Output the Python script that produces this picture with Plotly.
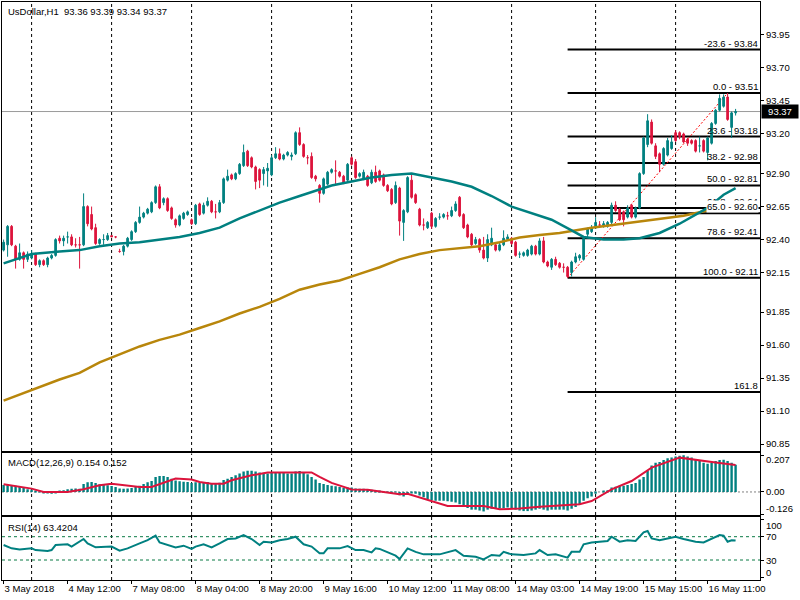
import plotly.graph_objects as go

FONT = "Liberation Sans, Arial, sans-serif"
TEAL = "#008080"
CRIMSON = "#DC143C"
GOLD = "#B8860B"

# ---------------- price data (H1 bars, index 0 = 3 May 2018) ----------------
opens = [
    92.32, 92.36, 92.50, 92.35, 92.25, 92.30, 92.25, 92.26, 92.29, 92.21,
    92.24, 92.21, 92.26, 92.28, 92.41, 92.39, 92.42, 92.42, 92.36, 92.36,
    92.36, 92.65, 92.59, 92.49, 92.37, 92.40, 92.40, 92.43, 92.42, 92.31,
    92.31, 92.35, 92.40, 92.46, 92.53, 92.57, 92.60, 92.61, 92.68, 92.80,
    92.68, 92.71, 92.64, 92.55, 92.51, 92.56, 92.59, 92.55, 92.52, 92.67,
    92.60, 92.66, 92.69, 92.61, 92.61, 92.68, 92.85, 92.89, 92.86, 92.90,
    92.96, 93.07, 93.02, 92.95, 92.93, 92.90, 92.92, 92.89, 93.02, 93.05,
    93.01, 93.04, 93.03, 93.05, 93.21, 93.12, 93.02, 93.03, 92.88, 92.81,
    92.75, 92.82, 92.91, 92.92, 92.91, 92.88, 92.85, 93.02, 92.99, 92.88,
    92.86, 92.88, 92.83, 92.91, 92.92, 92.89, 92.81, 92.78, 92.68, 92.79,
    92.53, 92.61, 92.85, 92.74, 92.63, 92.51, 92.49, 92.60, 92.50, 92.57,
    92.57, 92.58, 92.58, 92.62, 92.72, 92.59, 92.51, 92.44, 92.37, 92.40,
    92.32, 92.26, 92.36, 92.36, 92.32, 92.36, 92.40, 92.41, 92.38, 92.29,
    92.28, 92.28, 92.29, 92.35, 92.29, 92.39, 92.23, 92.19, 92.25, 92.22,
    92.19, 92.19, 92.15, 92.23, 92.26, 92.25, 92.44, 92.46, 92.49, 92.51,
    92.51, 92.50, 92.53, 92.66, 92.63, 92.61, 92.57, 92.66, 92.57, 92.64,
    92.90, 93.12, 93.29, 93.11, 93.05, 92.97, 93.04, 93.09, 93.21, 93.21,
    93.20, 93.16, 93.15, 93.15, 93.11, 93.15, 93.06, 93.13, 93.28, 93.38,
    93.41, 93.48, 93.25, 93.36,
]
highs = [
    92.40, 92.51, 92.51, 92.36, 92.37, 92.31, 92.31, 92.32, 92.30, 92.25,
    92.25, 92.27, 92.29, 92.41, 92.43, 92.43, 92.46, 92.44, 92.41, 92.42,
    92.75, 92.66, 92.65, 92.52, 92.41, 92.44, 92.45, 92.43, 92.42, 92.33,
    92.36, 92.42, 92.47, 92.54, 92.65, 92.61, 92.64, 92.69, 92.81, 92.82,
    92.72, 92.72, 92.65, 92.56, 92.59, 92.61, 92.62, 92.56, 92.67, 92.68,
    92.68, 92.72, 92.70, 92.67, 92.70, 92.87, 92.93, 92.90, 92.91, 92.98,
    93.12, 93.08, 93.03, 92.96, 92.94, 92.95, 92.98, 93.04, 93.10, 93.09,
    93.05, 93.07, 93.06, 93.22, 93.25, 93.13, 93.04, 93.06, 92.89, 92.82,
    92.87, 92.92, 92.94, 93.00, 92.92, 92.89, 92.98, 93.03, 93.01, 92.91,
    92.93, 92.89, 92.93, 92.96, 92.93, 92.90, 92.82, 92.79, 92.84, 92.80,
    92.63, 92.88, 92.89, 92.75, 92.64, 92.56, 92.54, 92.61, 92.57, 92.60,
    92.60, 92.61, 92.65, 92.69, 92.73, 92.60, 92.52, 92.45, 92.42, 92.41,
    92.42, 92.44, 92.49, 92.37, 92.38, 92.47, 92.44, 92.42, 92.39, 92.31,
    92.31, 92.33, 92.36, 92.36, 92.41, 92.42, 92.24, 92.26, 92.27, 92.23,
    92.22, 92.20, 92.24, 92.30, 92.29, 92.42, 92.49, 92.51, 92.57, 92.54,
    92.54, 92.54, 92.68, 92.69, 92.64, 92.62, 92.66, 92.67, 92.65, 92.91,
    93.18, 93.35, 93.31, 93.13, 93.06, 93.10, 93.17, 93.19, 93.23, 93.22,
    93.21, 93.17, 93.16, 93.16, 93.18, 93.16, 93.18, 93.29, 93.39, 93.50,
    93.50, 93.51, 93.37, 93.39,
]
lows = [
    92.31, 92.27, 92.35, 92.18, 92.24, 92.18, 92.23, 92.25, 92.20, 92.19,
    92.20, 92.19, 92.25, 92.27, 92.37, 92.35, 92.37, 92.35, 92.34, 92.18,
    92.35, 92.50, 92.47, 92.36, 92.36, 92.36, 92.39, 92.42, 92.41, 92.30,
    92.28, 92.34, 92.39, 92.45, 92.52, 92.56, 92.59, 92.60, 92.67, 92.63,
    92.66, 92.61, 92.55, 92.49, 92.50, 92.55, 92.58, 92.51, 92.51, 92.58,
    92.59, 92.65, 92.60, 92.56, 92.60, 92.67, 92.84, 92.85, 92.85, 92.89,
    92.95, 92.95, 92.94, 92.78, 92.79, 92.81, 92.80, 92.88, 93.01, 93.00,
    93.00, 93.03, 93.00, 93.04, 93.11, 93.02, 92.97, 92.86, 92.84, 92.68,
    92.74, 92.81, 92.90, 92.81, 92.87, 92.82, 92.84, 92.96, 92.86, 92.87,
    92.85, 92.80, 92.82, 92.83, 92.84, 92.80, 92.76, 92.66, 92.67, 92.43,
    92.39, 92.60, 92.71, 92.67, 92.50, 92.47, 92.48, 92.48, 92.49, 92.55,
    92.56, 92.55, 92.57, 92.61, 92.57, 92.48, 92.41, 92.35, 92.36, 92.30,
    92.25, 92.23, 92.35, 92.31, 92.31, 92.35, 92.39, 92.36, 92.27, 92.26,
    92.27, 92.27, 92.28, 92.28, 92.28, 92.22, 92.19, 92.17, 92.20, 92.18,
    92.15, 92.11, 92.12, 92.22, 92.24, 92.24, 92.41, 92.45, 92.48, 92.49,
    92.49, 92.49, 92.51, 92.61, 92.54, 92.50, 92.56, 92.56, 92.56, 92.63,
    92.89, 93.10, 93.12, 93.01, 92.91, 92.96, 93.03, 93.08, 93.14, 93.16,
    93.13, 93.11, 93.12, 93.06, 93.06, 93.06, 93.00, 93.12, 93.27, 93.37,
    93.40, 93.30, 93.17, 93.34,
]
closes = [
    92.38, 92.50, 92.36, 92.25, 92.30, 92.25, 92.29, 92.29, 92.21, 92.24,
    92.21, 92.26, 92.28, 92.40, 92.39, 92.41, 92.42, 92.36, 92.36, 92.36,
    92.65, 92.52, 92.48, 92.37, 92.40, 92.40, 92.43, 92.42, 92.42, 92.31,
    92.35, 92.41, 92.46, 92.53, 92.57, 92.60, 92.63, 92.68, 92.80, 92.64,
    92.71, 92.62, 92.56, 92.51, 92.58, 92.60, 92.61, 92.52, 92.66, 92.59,
    92.66, 92.69, 92.61, 92.61, 92.68, 92.86, 92.88, 92.86, 92.90, 92.97,
    93.06, 92.96, 92.95, 92.84, 92.85, 92.93, 92.94, 93.02, 93.05, 93.01,
    93.04, 93.06, 93.04, 93.21, 93.12, 93.03, 93.02, 92.87, 92.86, 92.75,
    92.86, 92.91, 92.93, 92.92, 92.88, 92.83, 92.97, 92.97, 92.87, 92.90,
    92.91, 92.81, 92.91, 92.84, 92.85, 92.81, 92.77, 92.67, 92.81, 92.54,
    92.62, 92.87, 92.72, 92.68, 92.51, 92.51, 92.53, 92.50, 92.56, 92.57,
    92.59, 92.58, 92.62, 92.67, 92.58, 92.49, 92.42, 92.36, 92.40, 92.32,
    92.26, 92.40, 92.41, 92.32, 92.36, 92.41, 92.42, 92.37, 92.28, 92.29,
    92.30, 92.32, 92.35, 92.29, 92.39, 92.23, 92.20, 92.25, 92.21, 92.19,
    92.19, 92.12, 92.23, 92.27, 92.28, 92.41, 92.48, 92.49, 92.53, 92.51,
    92.52, 92.53, 92.66, 92.62, 92.55, 92.55, 92.64, 92.57, 92.64, 92.90,
    93.17, 93.30, 93.13, 93.03, 92.97, 93.09, 93.15, 93.14, 93.15, 93.18,
    93.14, 93.13, 93.13, 93.07, 93.11, 93.07, 93.17, 93.28, 93.38, 93.47,
    93.48, 93.31, 93.36, 93.37,
]
bars = list(range(len(closes)))

# time axis
tick_bars = [0, 16, 32, 48, 64, 80, 96, 112, 128, 144, 160, 176]
tick_labels = ["3 May 2018", "4 May 12:00", "7 May 08:00", "8 May 04:00",
               "8 May 20:00", "9 May 16:00", "10 May 12:00", "11 May 08:00",
               "14 May 03:00", "14 May 19:00", "15 May 15:00", "16 May 11:00"]
day_start_bars = [7, 27, 47, 67, 87, 107, 127, 148, 168]

price_ticks = [93.95, 93.70, 93.45, 93.20, 92.90, 92.65, 92.40, 92.15,
               91.85, 91.60, 91.35, 91.10, 90.85]

# moving averages (read at sample bars)
ma_fast_bars = [0, 7, 14, 19, 24, 29, 34, 39, 44, 49, 54, 59, 64, 69, 74, 77,
                82, 87, 92, 97, 102, 107, 112, 117, 122, 127, 132, 137, 142,
                145, 150, 155, 159, 164, 169, 174, 176, 180, 183]
ma_fast_vals = [92.22, 92.29, 92.31, 92.32, 92.35, 92.37, 92.38, 92.40, 92.42,
                92.45, 92.49, 92.56, 92.62, 92.68, 92.73, 92.76, 92.81, 92.84,
                92.87, 92.89, 92.90, 92.87, 92.84, 92.80, 92.73, 92.65, 92.60,
                92.55, 92.47, 92.42, 92.40, 92.40, 92.41, 92.45, 92.52, 92.61,
                92.64, 92.74, 92.79]
ma_slow_bars = [0, 7, 14, 19, 24, 29, 34, 39, 44, 49, 54, 59, 64, 69, 74, 79,
                84, 89, 94, 99, 104, 109, 114, 119, 124, 129, 134, 139, 147,
                155, 164, 170, 176, 183]
ma_slow_vals = [91.18, 91.26, 91.34, 91.39, 91.47, 91.53, 91.59, 91.64, 91.68,
                91.73, 91.78, 91.84, 91.89, 91.95, 92.02, 92.06, 92.09, 92.14,
                92.19, 92.25, 92.29, 92.32, 92.335, 92.35, 92.38, 92.415,
                92.435, 92.45, 92.49, 92.52, 92.555, 92.58, 92.62, 92.66]

# Fibonacci retracement
fib_low_bar, fib_low = 141, 92.11
fib_high_bar, fib_high = 181, 93.51
fib_prices = [93.84, 93.51, 93.18, 92.98, 92.81, 92.64, 92.60, 92.41, 92.11, 91.245]
fib_labels = ["-23.6 - 93.84", "0.0 - 93.51", "23.6 - 93.18", "38.2 - 92.98",
              "50.0 - 92.81", "61.8 - 92.64", "65.0 - 92.60", "78.6 - 92.41",
              "100.0 - 92.11", "161.8"]
current_price = 93.37

# MACD(12,26,9)
macd_hist = [
    0.040, 0.042, 0.040, 0.035, 0.030, 0.022, 0.015, 0.012, 0.008, 0.002,
    -0.004, -0.008, -0.010, -0.006, 0.005, 0.010, 0.015, 0.018, 0.020, 0.018,
    0.045, 0.055, 0.056, 0.050, 0.044, 0.040, 0.038, 0.034, 0.028, 0.020,
    0.018, 0.020, 0.022, 0.028, 0.035, 0.045, 0.055, 0.062, 0.085, 0.090,
    0.090, 0.085, 0.075, 0.065, 0.060, 0.058, 0.056, 0.050, 0.055, 0.053,
    0.055, 0.056, 0.050, 0.047, 0.052, 0.068, 0.075, 0.085, 0.095, 0.105,
    0.115, 0.120, 0.120, 0.115, 0.110, 0.108, 0.105, 0.108, 0.110, 0.110,
    0.108, 0.105, 0.105, 0.115, 0.118, 0.108, 0.100, 0.085, 0.070, 0.050,
    0.045, 0.040, 0.035, 0.032, 0.028, 0.022, 0.025, 0.025, 0.020, 0.018,
    0.018, 0.012, 0.012, 0.008, 0.005, 0.002, -0.002, -0.008, -0.002, -0.018,
    -0.025, -0.012, -0.008, -0.010, -0.020, -0.030, -0.040, -0.045, -0.050, -0.050,
    -0.050, -0.052, -0.055, -0.060, -0.070, -0.080, -0.090, -0.100, -0.100, -0.105,
    -0.110, -0.100, -0.095, -0.095, -0.093, -0.090, -0.088, -0.090, -0.100, -0.105,
    -0.108, -0.108, -0.105, -0.100, -0.095, -0.100, -0.105, -0.100, -0.100, -0.100,
    -0.100, -0.105, -0.095, -0.085, -0.070, -0.050, -0.035, -0.025, -0.010, 0.000,
    0.005, 0.010, 0.025, 0.030, 0.035, 0.035, 0.040, 0.045, 0.050, 0.070,
    0.085, 0.120, 0.150, 0.165, 0.170, 0.180, 0.190, 0.195, 0.200, 0.205,
    0.207, 0.200, 0.195, 0.185, 0.175, 0.165, 0.160, 0.165, 0.175, 0.180,
    0.182, 0.175, 0.165, 0.154,
]
signal_bars = [0, 7, 10, 16, 20, 24, 27, 31, 34, 37, 41, 43, 47, 49, 52, 55,
               57, 62, 66, 70, 77, 79, 82, 87, 91, 95, 99, 101, 108, 111, 120,
               124, 129, 134, 144, 147, 152, 157, 162, 169, 178, 183]
signal_vals = [0.044, 0.019, 0.000, 0.000, 0.015, 0.038, 0.047, 0.038, 0.028,
               0.028, 0.062, 0.076, 0.070, 0.056, 0.047, 0.047, 0.066, 0.094,
               0.110, 0.110, 0.110, 0.085, 0.051, 0.014, 0.012, 0.000, -0.013,
               -0.010, -0.060, -0.079, -0.079, -0.098, -0.094, -0.083, -0.069,
               -0.051, 0.015, 0.062, 0.138, 0.194, 0.166, 0.152]
macd_axis_vals = [0.207, 0.0, -0.126]
macd_axis_text = ["0.207", "0.00", "-0.126"]

# RSI(14)
rsi_bars = [0, 2, 4, 7, 8, 11, 12, 13, 16, 17, 20, 21, 23, 27, 29, 31, 34, 36,
            38, 39, 43, 45, 47, 48, 50, 52, 54, 56, 58, 60, 62, 64, 65, 67, 69,
            71, 73, 75, 77, 79, 80, 81, 84, 86, 88, 90, 92, 93, 94, 96, 98, 99,
            101, 103, 105, 109, 111, 113, 115, 118, 120, 122, 124, 125, 127,
            130, 133, 134, 136, 138, 141, 142, 144, 145, 147, 151, 152, 154,
            156, 158, 160, 161, 162, 164, 166, 168, 170, 173, 175, 177, 179,
            180, 181, 182, 183]
rsi_vals = [55.7, 50.0, 48.0, 50.0, 47.0, 45.4, 47.0, 55.7, 57.0, 53.0, 66.0,
            58.6, 51.7, 53.0, 46.0, 50.0, 58.6, 64.0, 71.7, 60.0, 51.7, 54.6,
            49.0, 53.0, 57.0, 51.7, 58.6, 66.0, 67.0, 72.9, 66.0, 55.7, 61.4,
            60.0, 64.0, 66.0, 70.0, 57.0, 53.0, 41.4, 41.4, 50.0, 50.0, 54.0,
            47.0, 47.0, 43.0, 50.0, 49.0, 43.0, 37.4, 31.7, 50.0, 44.0, 39.7,
            39.7, 44.0, 47.0, 37.4, 35.7, 31.0, 38.6, 37.4, 44.0, 39.7, 38.6,
            41.4, 47.0, 38.6, 39.7, 34.0, 44.0, 44.0, 57.0, 60.0, 62.6, 70.0,
            61.4, 64.0, 62.6, 77.4, 79.7, 67.0, 64.0, 67.0, 70.0, 66.0, 61.4,
            60.0, 67.0, 72.9, 71.7, 61.4, 64.0, 63.42]
rsi_levels = [70, 30]
rsi_axis_vals = [100, 70, 30, 0]

# ---------------- figure ----------------
X_MIN, X_MAX = -0.4, 189.1
MAIN_RANGE = [90.798, 94.20]
MACD_RANGE = [-0.130, 0.2175]
RSI_RANGE = [-4.3, 103.8]

fig = go.Figure()
fig.add_trace(go.Scatter(x=ma_slow_bars, y=ma_slow_vals, mode="lines",
                         line=dict(color=GOLD, width=2.5), hoverinfo="skip",
                         xaxis="x", yaxis="y"))
fig.add_trace(go.Scatter(x=ma_fast_bars, y=ma_fast_vals, mode="lines",
                         line=dict(color=TEAL, width=2.5), hoverinfo="skip",
                         xaxis="x", yaxis="y"))
fig.add_trace(go.Candlestick(
    x=bars, open=opens, high=highs, low=lows, close=closes,
    increasing=dict(line=dict(color=TEAL, width=1), fillcolor=TEAL),
    decreasing=dict(line=dict(color=CRIMSON, width=1), fillcolor=CRIMSON),
    whiskerwidth=0, hoverinfo="skip", xaxis="x", yaxis="y"))
fig.add_trace(go.Bar(x=bars, y=macd_hist, marker=dict(color=TEAL, line=dict(width=0)),
                     hoverinfo="skip", xaxis="x2", yaxis="y2"))
fig.add_trace(go.Scatter(x=signal_bars, y=signal_vals, mode="lines",
                         line=dict(color=CRIMSON, width=2), hoverinfo="skip",
                         xaxis="x2", yaxis="y2"))
fig.add_trace(go.Scatter(x=rsi_bars, y=rsi_vals, mode="lines",
                         line=dict(color=TEAL, width=2), hoverinfo="skip",
                         xaxis="x3", yaxis="y3"))

shapes = []
for xr, yr in (("x", "y domain"), ("x2", "y2 domain"), ("x3", "y3 domain")):
    for d in day_start_bars:
        shapes.append(dict(type="line", xref=xr, yref=yr, x0=d, x1=d, y0=0, y1=1,
                           line=dict(color="black", width=1, dash="3px,3px"),
                           layer="below"))
shapes.append(dict(type="line", xref="x", yref="y", x0=X_MIN, x1=X_MAX,
                   y0=current_price, y1=current_price,
                   line=dict(color="#9A9A9A", width=1), layer="below"))
for p in fib_prices:
    shapes.append(dict(type="line", xref="x", yref="y", x0=fib_low_bar, x1=X_MAX,
                       y0=p, y1=p, line=dict(color="black", width=2), layer="below"))
shapes.append(dict(type="line", xref="x", yref="y", x0=fib_low_bar, y0=fib_low,
                   x1=fib_high_bar, y1=fib_high,
                   line=dict(color="red", width=1, dash="2px,2px"), layer="below"))
shapes.append(dict(type="line", xref="x2", yref="y2", x0=X_MIN, x1=X_MAX, y0=0, y1=0,
                   line=dict(color="#808080", width=1, dash="2px,2px"), layer="below"))
for lv in rsi_levels:
    shapes.append(dict(type="line", xref="x3", yref="y3", x0=X_MIN, x1=X_MAX,
                       y0=lv, y1=lv,
                       line=dict(color="#0B7A45", width=1, dash="3px,3px"),
                       layer="below"))

f = dict(family=FONT, size=9.5, color="black")
ann = []
ann.append(dict(xref="paper", yref="paper", x=0, y=1, xanchor="left", yanchor="top",
                xshift=4, yshift=-2, showarrow=False, font=f,
                text="UsDollar,H1  93.36 93.39 93.34 93.37"))
for p, t in zip(fib_prices, fib_labels):
    a = dict(xref="paper", yref="y", x=1, y=p, xanchor="right", yanchor="bottom",
             xshift=-1, yshift=0, showarrow=False, font=f, text=t, borderpad=0)
    if t.startswith("65.0"):
        a["bgcolor"] = "white"
    ann.append(a)
ann.append(dict(xref="paper", yref="y", x=1, y=current_price, xanchor="left",
                yanchor="middle", xshift=1, showarrow=False, width=34, align="center",
                bgcolor="black", borderpad=1,
                font=dict(family=FONT, size=9.5, color="white"),
                text="%.2f" % current_price))
ann.append(dict(xref="paper", yref="y2 domain", x=0, y=1, xanchor="left",
                yanchor="top", xshift=4, yshift=-2, showarrow=False, font=f,
                text="MACD(12,26,9) 0.154 0.152"))
for v, t, s in zip(macd_axis_vals, macd_axis_text, (-4, 0, 6)):
    ann.append(dict(xref="paper", yref="y2", x=1, y=v, xanchor="left",
                    yanchor="middle", xshift=4, yshift=s, showarrow=False, font=f,
                    text=t))
ann.append(dict(xref="paper", yref="y3 domain", x=0, y=1, xanchor="left",
                yanchor="top", xshift=4, yshift=-3, showarrow=False, font=f,
                text="RSI(14) 63.4204"))
for v, s in zip(rsi_axis_vals, (-6, 0, 0, 5)):
    ann.append(dict(xref="paper", yref="y3", x=1, y=v, xanchor="left",
                    yanchor="middle", xshift=4, yshift=s, showarrow=False, font=f,
                    text=str(v)))

axis_common = dict(showgrid=False, zeroline=False, showline=True, mirror=True,
                   linecolor="black", linewidth=1, automargin=False)

fig.update_layout(
    template="none",
    width=800, height=600,
    margin=dict(l=2, r=40, t=2, b=20),
    paper_bgcolor="white", plot_bgcolor="white",
    font=dict(family=FONT, size=9.5, color="black"),
    showlegend=False, bargap=0.4, boxgap=0.4,
    xaxis=dict(domain=[0, 1], anchor="y", range=[X_MIN, X_MAX],
               showticklabels=False, ticks="", rangeslider=dict(visible=False),
               **axis_common),
    xaxis2=dict(domain=[0, 1], anchor="y2", range=[X_MIN, X_MAX], matches="x",
                showticklabels=False, ticks="", **axis_common),
    xaxis3=dict(domain=[0, 1], anchor="y3", range=[X_MIN, X_MAX], matches="x",
                tickmode="array", tickvals=tick_bars, ticktext=tick_labels,
                ticks="outside", ticklen=3, tickcolor="black", tickangle=0,
                ticklabelposition="outside right",
                tickfont=dict(family=FONT, size=9.5, color="black"), **axis_common),
    yaxis=dict(domain=[0.2232, 1.0], anchor="x", side="right", range=MAIN_RANGE,
               tickmode="array", tickvals=price_ticks,
               ticktext=["%.2f" % v for v in price_ticks],
               ticks="outside", ticklen=3, tickcolor="black",
               tickfont=dict(family=FONT, size=9.5, color="black"), **axis_common),
    yaxis2=dict(domain=[0.1125, 0.2189], anchor="x2", side="right", range=MACD_RANGE,
                tickmode="array", tickvals=macd_axis_vals, showticklabels=False,
                ticks="outside", ticklen=3, tickcolor="black", **axis_common),
    yaxis3=dict(domain=[0.0, 0.1090], anchor="x3", side="right", range=RSI_RANGE,
                tickmode="array", tickvals=rsi_axis_vals, showticklabels=False,
                ticks="outside", ticklen=3, tickcolor="black", **axis_common),
    shapes=shapes,
    annotations=ann,
)

fig.write_html(
    "out.html",
    config={"displayModeBar": False},
    post_script="document.body.style.margin='0';document.body.style.padding='0';"
                "document.body.style.overflow='hidden';",
)
